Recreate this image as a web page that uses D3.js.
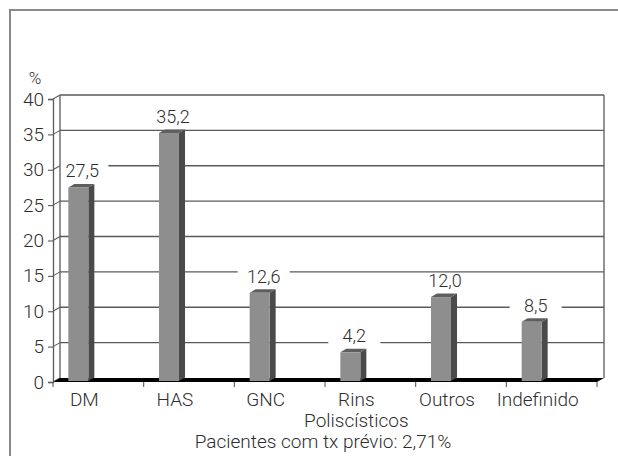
<!DOCTYPE html>
<html>
<head>
<meta charset="utf-8">
<script src="https://cdn.jsdelivr.net/npm/d3@7/dist/d3.min.js"></script>
<style>
  html, body { margin: 0; padding: 0; background: #fff; }
  svg { display: block; font-family: Roboto, "Liberation Sans", Arial, sans-serif; font-weight: 300; }
</style>
</head>
<body>
<div id="chart"></div>
<script>
// Causes of renal failure (%)
const categories = ["DM", "HAS", "GNC", "Rins\nPoliscísticos", "Outros", "Indefinido"];
const values = [27.5, 35.2, 12.6, 4.2, 12.0, 8.5];
const valueLabels = ["27,5", "35,2", "12,6", "4,2", "12,0", "8,5"];
const yTicks = [0, 5, 10, 15, 20, 25, 30, 35, 40];
const footnote = "Pacientes com tx prévio: 2,71%";

const W = 618, H = 456;
const FONT = "Roboto, 'Liberation Sans', Arial, sans-serif";
const TXT = "#2e2e2e";
const svg = d3.select("#chart").append("svg").attr("width", W).attr("height", H);

// outer frame (top and left edges)
svg.append("path")
  .attr("d", "M10,456 L10,10 L618,10")
  .attr("fill", "none").attr("stroke", "#8a8a8a").attr("stroke-width", 2);

// 3D depth offset of the back wall
const DX = 7, DY = -4;
const x = d3.scaleBand().domain(categories).range([53, 597]);
const y = d3.scaleLinear().domain([0, 40]).range([382, 99]);
const x0 = x.range()[0], x1 = x.range()[1];

const gridColor = "#5a5a5a";
const g = svg.append("g");

// back wall grid lines
g.selectAll("line.grid").data(yTicks.filter(d => d > 0)).join("line")
  .attr("class", "grid")
  .attr("x1", x0 + DX).attr("x2", x1 + DX)
  .attr("y1", d => y(d) + DY).attr("y2", d => y(d) + DY)
  .attr("stroke", gridColor).attr("stroke-width", 1.3);

// white backing behind the value labels (hides grid lines)
const barW = 20, bdx = 6, bdy = -3.5;
const barLeft = c => x(c) + x.bandwidth() / 2 - 30;
const labelX = c => barLeft(c) + barW / 2 + 4;
const labelY = v => y(v) - 10;
g.selectAll("rect.lblbg").data(categories).join("rect")
  .attr("class", "lblbg")
  .attr("x", c => labelX(c) - 26)
  .attr("y", (c, i) => labelY(values[i]) - 14)
  .attr("width", 52).attr("height", 18)
  .attr("fill", "#fff");

// back wall vertical edges
[x0 + DX, x1 + DX].forEach(px => {
  g.append("line").attr("x1", px).attr("x2", px)
    .attr("y1", y(40) + DY).attr("y2", y(0) + DY)
    .attr("stroke", gridColor).attr("stroke-width", 1.3);
});

// side wall lines joining axis ticks to the back wall
g.selectAll("line.side").data(yTicks).join("line")
  .attr("class", "side")
  .attr("x1", x0).attr("x2", x0 + DX)
  .attr("y1", d => y(d)).attr("y2", d => y(d) + DY)
  .attr("stroke", gridColor).attr("stroke-width", 1.1);

// floor
g.append("path")
  .attr("d", `M${x0},${y(0)} L${x0 + DX},${y(0) + DY} L${x1 + DX},${y(0) + DY} L${x1},${y(0)} Z`)
  .attr("fill", "#000");

// y axis
const yAxis = d3.axisLeft(y).tickValues(yTicks).tickSize(5).tickPadding(4).tickFormat(d3.format("d"));
const ya = svg.append("g").attr("transform", `translate(${x0},0)`).call(yAxis);
ya.select(".domain").attr("stroke", gridColor).attr("stroke-width", 1.3);
ya.selectAll(".tick line").attr("stroke", gridColor).attr("stroke-width", 1.1);
ya.selectAll(".tick text").attr("font-size", 19).attr("fill", TXT)
  .attr("font-family", FONT).attr("font-weight", 300);

svg.append("text").attr("x", 35).attr("y", 84).attr("text-anchor", "middle")
  .attr("font-size", 17).attr("fill", TXT).text("%");

// x axis ticks on the front floor edge
const tickXs = categories.map(c => x(c)).concat([x1]);
svg.append("g").selectAll("line").data(tickXs).join("line")
  .attr("x1", d => d).attr("x2", d => d)
  .attr("y1", y(0)).attr("y2", y(0) + 5)
  .attr("stroke", gridColor).attr("stroke-width", 1.1);

// bars
const bars = svg.append("g");
const base = y(0) - 1;
categories.forEach((c, i) => {
  const l = barLeft(c), t = y(values[i]);
  bars.append("path")   // side face
    .attr("d", `M${l + barW},${t} L${l + barW + bdx},${t + bdy} L${l + barW + bdx},${base + bdy} L${l + barW},${base} Z`)
    .attr("fill", "#4a4a4a");
  bars.append("path")   // top face
    .attr("d", `M${l},${t} L${l + bdx},${t + bdy} L${l + barW + bdx},${t + bdy} L${l + barW},${t} Z`)
    .attr("fill", "#5e5e5e");
  bars.append("rect")   // front face
    .attr("x", l).attr("y", t).attr("width", barW).attr("height", base - t)
    .attr("fill", "#8e8e8e");
});

// value labels
svg.append("g").selectAll("text").data(categories).join("text")
  .attr("x", c => labelX(c))
  .attr("y", (c, i) => labelY(values[i]))
  .attr("text-anchor", "middle").attr("font-size", 18).attr("fill", TXT)
  .text((c, i) => valueLabels[i]);

// category labels
const cl = svg.append("g");
categories.forEach(c => {
  const cx = x(c) + x.bandwidth() / 2 - 14;
  const t = cl.append("text").attr("x", cx).attr("y", 406)
    .attr("text-anchor", "middle").attr("font-size", 19).attr("fill", TXT);
  c.split("\n").forEach((line, k) => {
    t.append("tspan").attr("x", cx).attr("dy", k === 0 ? 0 : 21).text(line);
  });
});

// footnote
svg.append("text").attr("x", 323).attr("y", 448).attr("text-anchor", "middle")
  .attr("font-size", 19).attr("fill", TXT).text(footnote);
</script>
</body>
</html>
